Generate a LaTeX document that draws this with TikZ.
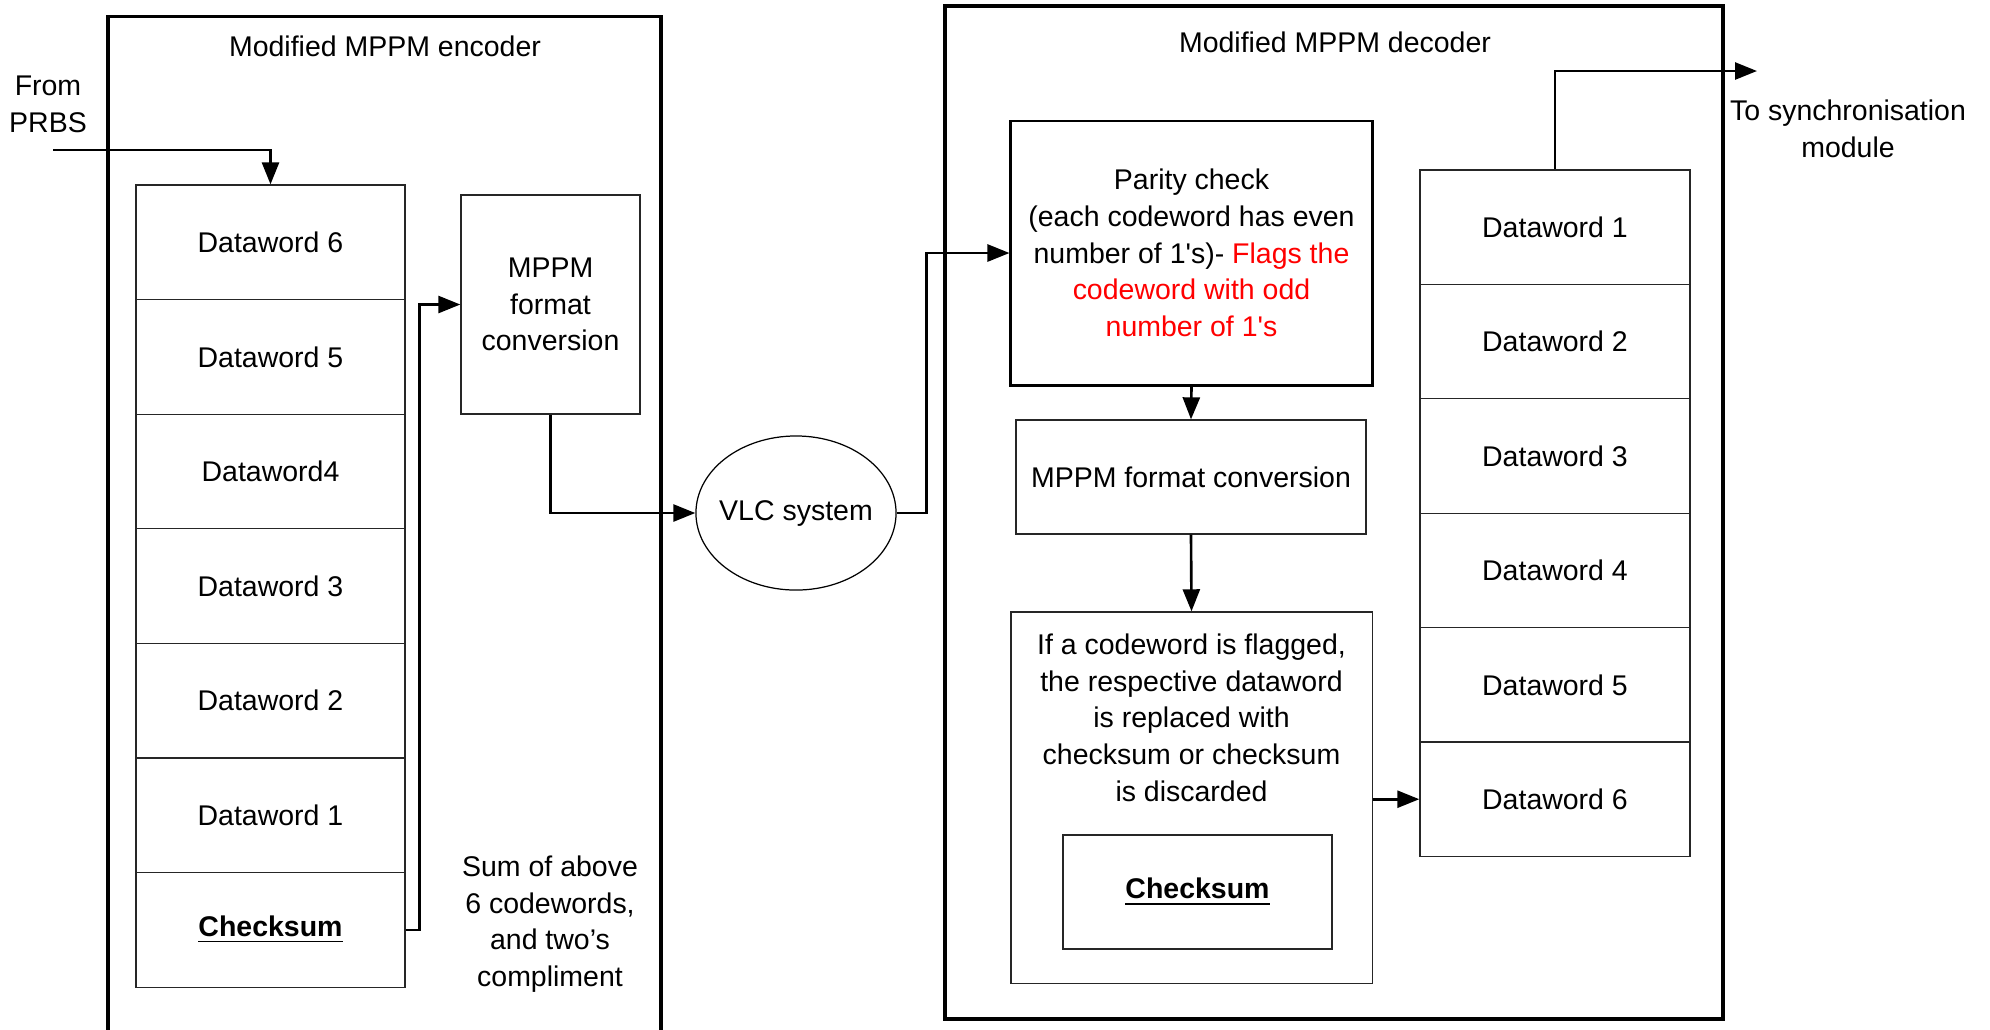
\documentclass[tikz,border=0pt]{standalone}
\usepackage{fontspec}
\setmainfont{Liberation Sans}
\usetikzlibrary{arrows.meta,shapes.geometric}
\begin{document}
\begin{tikzpicture}[x=0.01cm,y=-0.01cm,>={Triangle[length=2.2mm,width=1.7mm]},
  every node/.style={font=\fontsize{8.1}{10.45}\selectfont,align=center},
  frame/.style={draw,line width=0.9pt},
  cell/.style={draw=black!85,line width=0.35pt,minimum width=2.69cm,minimum height=1.146cm,inner sep=0pt},
  box/.style={draw=black!85,line width=0.35pt,inner sep=0pt},
  link/.style={->,line width=0.75pt}]
\useasboundingbox (0,0) rectangle (1990,1029);
\draw[frame] (108,1040) |- (661,16.5) -- (661,1040);
\draw[frame] (945,6) rectangle (1723,1019);
\node (enctitle) at (385,46) {Modified MPPM encoder};
\node (dectitle) at (1335,42) {Modified MPPM decoder};
\node (prbs) at (48,104) {From\\PRBS};
\coordinate (src) at (53,150);
\foreach \t [count=\i] in {Dataword 6,Dataword 5,Dataword4,Dataword 3,Dataword 2,Dataword 1,\underline{\textbf{Checksum}}}
  \node[cell] (enc\i) at (270.5,{185+114.6*(\i-0.5)}) {\t};
\node[box,minimum width=1.79cm,minimum height=2.19cm] (conv1) at (550.5,304.5) {MPPM\\format\\conversion};
\node (sumtxt) at (550,924) {Sum of above\\6 codewords,\\and two’s\\compliment};
\node[ellipse,draw,line width=0.35pt,minimum width=2cm,minimum height=1.54cm,inner xsep=-0.12cm,inner ysep=0pt] (vlc) at (796,513) {VLC system};
\node[draw,line width=0.8pt,minimum width=3.61cm,minimum height=2.64cm,inner sep=0pt] (parity) at (1191.5,253)
  {Parity check\\(each codeword has even\\number of 1\textquotesingle s)- \textcolor{red}{Flags the}\\\textcolor{red}{codeword with odd}\\\textcolor{red}{number of 1\textquotesingle s}};
\node[box,minimum width=3.5cm,minimum height=1.14cm] (conv2) at (1191,477) {MPPM format conversion};
\node[box,minimum width=3.61cm,minimum height=3.71cm] (flag) at (1191.5,797.5) {};
\node[anchor=north] (flagtxt) at ([yshift=-0.1cm]flag.north)
  {If a codeword is flagged,\\the respective dataword\\is replaced with\\checksum or checksum\\is discarded};
\node[box,minimum width=2.69cm,minimum height=1.14cm] (chk) at (1197.5,892) {\underline{\textbf{Checksum}}};
\foreach \i in {1,...,6}
  \node[cell,minimum width=2.7cm,minimum height=1.144cm] (dec\i) at (1555,{170+114.4*(\i-0.5)}) {Dataword \i};
\coordinate (sync) at (1757,71);
\node (synctxt) at (1848,129) {To synchronisation\\module};
\draw[link] (src) -| (enc1.north);
\draw[link] (enc7.east) -- ++(14,0) |- (conv1.west);
\draw[link] (conv1.south) |- (vlc.west);
\draw[link] (vlc.east) -- ++(30,0) |- (parity.west);
\draw[link] (parity.south) -- (conv2.north);
\draw[link] (conv2.south) -- (flag.north);
\draw[link] (flag.east |- dec6.west) -- (dec6.west);
\draw[link] (dec1.north) |- (sync);
\end{tikzpicture}
\end{document}
